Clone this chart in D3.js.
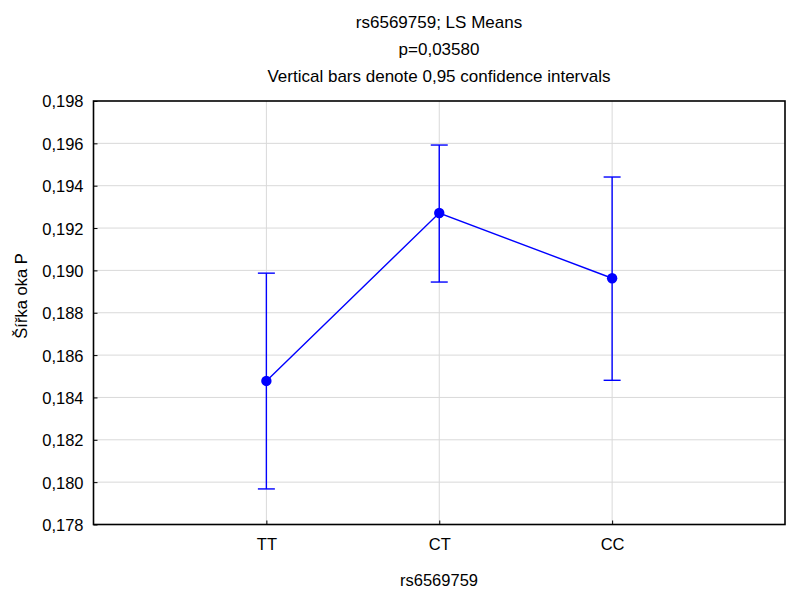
<!DOCTYPE html>
<html>
<head>
<meta charset="utf-8">
<script src="https://cdn.jsdelivr.net/npm/d3@7"></script>
<style>
  html, body { margin: 0; padding: 0; background: #fff; }
  svg { display: block; font-family: "Liberation Sans", Arial, sans-serif; }
</style>
</head>
<body>
<svg id="chart" width="798" height="590"></svg>
<script>
// LS means with 95% confidence limits per genotype
const categories = ["TT", "CT", "CC"];
const means = [0.18478, 0.19271, 0.18963];
const lower = [0.17968, 0.18945, 0.18481];
const upper = [0.18987, 0.19592, 0.19441];
const yTicks = [0.178, 0.180, 0.182, 0.184, 0.186, 0.188, 0.190, 0.192, 0.194, 0.196, 0.198];
const titleLines = ["rs6569759; LS Means", "p=0,03580", "Vertical bars denote 0,95 confidence intervals"];
const xTitle = "rs6569759";
const yTitle = "Šířka oka P";

const svg = d3.select("#chart");
const frame = { left: 93.5, right: 785, top: 101, bottom: 524.5 };
const blue = "#0000ff";

// x: one empty slot on either side of the three groups
const x = d3.scalePoint()
  .domain(["", ...categories, " "])
  .range([frame.left, frame.right]);
const y = d3.scaleLinear()
  .domain([0.178, 0.198])
  .range([frame.bottom, frame.top]);

const fmt = v => d3.format(".3f")(v).replace(".", ",");

// grid lines
const grid = svg.append("g");
grid.selectAll("line.h").data(yTicks.slice(1, -1)).join("line")
  .attr("x1", frame.left).attr("x2", frame.right)
  .attr("y1", d => y(d)).attr("y2", d => y(d))
  .attr("stroke", "#d9d9d9").attr("stroke-width", 1);
grid.selectAll("line.v").data(categories).join("line")
  .attr("x1", d => x(d)).attr("x2", d => x(d))
  .attr("y1", frame.top).attr("y2", frame.bottom)
  .attr("stroke", "#d9d9d9").attr("stroke-width", 1);

// left axis: labels outside, ticks pointing inward
const yAxis = svg.append("g")
  .attr("transform", `translate(${frame.left},0)`)
  .call(d3.axisRight(y).tickValues(yTicks).tickFormat(fmt).tickSize(4).tickPadding(0));
yAxis.select(".domain").remove();
yAxis.selectAll(".tick line").attr("stroke", "#000");
yAxis.selectAll(".tick text")
  .attr("x", -10).attr("dy", "0.36em")
  .attr("text-anchor", "end")
  .attr("font-size", "16.5px").attr("fill", "#000")
  .attr("font-family", "Liberation Sans, Arial, sans-serif");

// bottom axis: labels below, ticks pointing inward
const xAxis = svg.append("g")
  .attr("transform", `translate(0,${frame.bottom})`)
  .call(d3.axisBottom(x).tickValues(categories).tickSize(0));
xAxis.select(".domain").remove();
xAxis.selectAll(".tick line").attr("y2", -4).attr("stroke", "#000");
xAxis.selectAll(".tick text")
  .attr("y", 25.5).attr("dy", 0)
  .attr("font-size", "16.5px").attr("fill", "#000")
  .attr("font-family", "Liberation Sans, Arial, sans-serif");

// plot frame
svg.append("rect")
  .attr("x", frame.left).attr("y", frame.top)
  .attr("width", frame.right - frame.left).attr("height", frame.bottom - frame.top)
  .attr("fill", "none").attr("stroke", "#000").attr("stroke-width", 1.6);

// confidence interval whiskers
const idx = d3.range(categories.length);
const ci = svg.append("g").attr("stroke", blue).attr("stroke-width", 1.4);
ci.selectAll("line.stem").data(idx).join("line")
  .attr("x1", i => x(categories[i])).attr("x2", i => x(categories[i]))
  .attr("y1", i => y(upper[i])).attr("y2", i => y(lower[i]));
ci.selectAll("line.capTop").data(idx).join("line")
  .attr("x1", i => x(categories[i]) - 8.5).attr("x2", i => x(categories[i]) + 8.5)
  .attr("y1", i => y(upper[i])).attr("y2", i => y(upper[i]));
ci.selectAll("line.capBot").data(idx).join("line")
  .attr("x1", i => x(categories[i]) - 8.5).attr("x2", i => x(categories[i]) + 8.5)
  .attr("y1", i => y(lower[i])).attr("y2", i => y(lower[i]));

// mean line and points
svg.append("path")
  .datum(idx)
  .attr("fill", "none").attr("stroke", blue).attr("stroke-width", 1.4)
  .attr("d", d3.line().x(i => x(categories[i])).y(i => y(means[i])));
svg.selectAll("circle.mean").data(idx).join("circle")
  .attr("cx", i => x(categories[i])).attr("cy", i => y(means[i]))
  .attr("r", 5.2).attr("fill", blue);

// titles
svg.selectAll("text.title").data(titleLines).join("text")
  .attr("x", 439).attr("y", (d, i) => 27.5 + i * 27.3)
  .attr("text-anchor", "middle").attr("font-size", "17px").attr("fill", "#000")
  .text(d => d);

svg.append("text")
  .attr("x", 439).attr("y", 585.5)
  .attr("text-anchor", "middle").attr("font-size", "16.5px").attr("fill", "#000")
  .text(xTitle);

svg.append("text")
  .attr("transform", "translate(27,296) rotate(-90)")
  .attr("text-anchor", "middle").attr("font-size", "16.5px").attr("fill", "#000")
  .text(yTitle);
</script>
</body>
</html>
